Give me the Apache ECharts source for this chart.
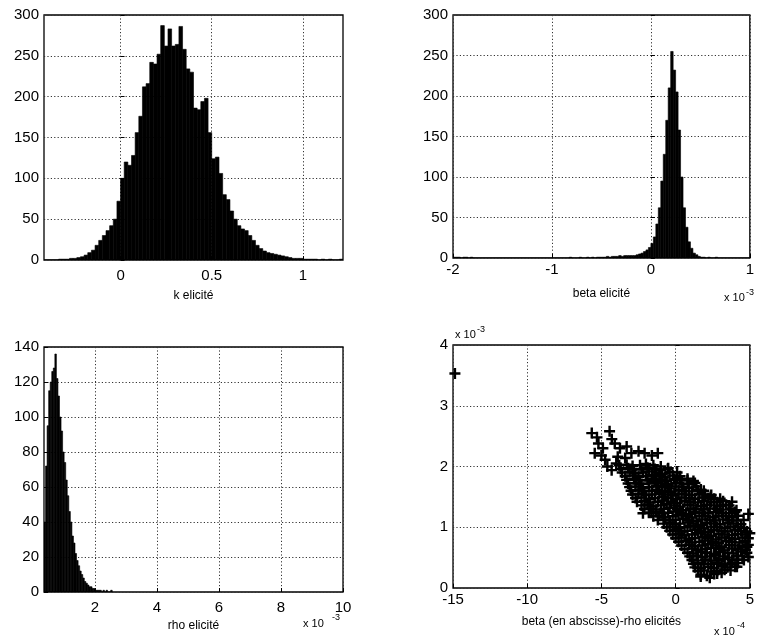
<!DOCTYPE html>
<html><head><meta charset="utf-8">
<script src="https://cdn.jsdelivr.net/npm/echarts@6/dist/echarts.min.js"></script>
<style>html,body{margin:0;padding:0;background:#fff}#c{width:757px;height:643px}</style>
</head><body><div id="c"></div>
<script>
// ---------- data ----------
// Panel 1: k elicité histogram (bins of 0.02 starting at -0.42)
const kBinStart = -0.42, kBinWidth = 0.02;
const kCounts = [0,0,0,0,1,1,1,2,2,3,
  4,6,9,12,18,24,30,36,42,50,
  72,100,120,116,128,156,176,212,216,242,
  240,252,287,262,283,262,264,286,258,234,
  230,186,184,194,198,156,124,126,106,80,
  74,60,50,42,38,36,30,24,18,14,
  11,9,8,7,6,5,4,3,2,2,
  2,1,1,1,1,0,1,0,1,0,0,1];
const kTicks = [0, 0.5, 1];

// Panel 2: beta elicité histogram (x 10^-3, bins of 0.025 starting at -2)
const betaBinStart = -2, betaBinWidth = 0.025;
const betaCounts = [1,1,1,0,1,1,0,1,0,0,
  0,0,0,0,0,0,0,0,0,0,
  0,0,0,0,0,0,0,0,0,0,
  0,0,0,0,0,0,0,0,0,0,
  0,0,0,0,0,0,0,1,0,0,
  0,1,0,0,1,0,1,0,1,1,
  1,1,2,1,2,2,2,3,2,3,3,3,
  3,3,4,5,6,8,10,13,
  18,26,42,62,95,128,170,210,255,232,205,158,100,62,38,20,12,6,4,2,1,
  1,0,1,0,0,1,0,0,0,0,0,0,0,0,0,0,0,0,0];
const betaTicks = [-2, -1, 0, 1];

// Panel 3: rho elicité histogram (x 10^-3, bins of 0.05 starting at 0.357)
const rhoBinStart = 0.357, rhoBinWidth = 0.05;
const rhoCounts = [40,72,95,115,120,126,128,136,122,112,
  100,92,80,74,64,55,46,40,32,28,
  22,18,15,12,10,8,6,5,4,3,
  3,2,2,1,1,1,1,0,1,0,1,0,0,1];
const rhoTicks = [2, 4, 6, 8, 10];

// Panel 4: beta (x 10^-4) vs rho (x 10^-3) scatter
const scatterPoints = [
  [1.7,0.22],[2.1,0.20],[2.6,0.23],[3.1,0.25],
  [1.5,0.28],[1.9,0.29],[2.4,0.27],[2.8,0.28],[3.3,0.30],[3.7,0.29],
  [1.3,0.34],[1.7,0.33],[2.2,0.35],[2.6,0.33],[3.1,0.36],[3.5,0.34],[4.0,0.35],
  [1.2,0.40],[1.5,0.41],[1.9,0.39],[2.4,0.40],[2.8,0.42],[3.3,0.40],[3.7,0.39],[4.2,0.41],
  [1.1,0.46],[1.5,0.45],[2.0,0.47],[2.4,0.45],[2.9,0.46],[3.3,0.48],[3.8,0.45],[4.2,0.47],[4.6,0.46],
  [0.95,0.52],[1.4,0.53],[1.8,0.51],[2.3,0.52],[2.7,0.54],[3.2,0.52],[3.6,0.50],[4.1,0.53],[4.5,0.52],[4.9,0.51],
  [0.8,0.58],[1.2,0.57],[1.7,0.59],[2.1,0.58],[2.6,0.56],[3.0,0.59],[3.5,0.58],[3.9,0.57],[4.4,0.60],[4.8,0.58],
  [0.6,0.64],[1.1,0.65],[1.5,0.63],[2.0,0.64],[2.4,0.66],[2.9,0.64],[3.3,0.62],[3.8,0.65],[4.2,0.64],[4.7,0.63],
  [0.4,0.70],[0.9,0.71],[1.3,0.69],[1.8,0.70],[2.2,0.72],[2.7,0.70],[3.1,0.68],[3.6,0.71],[4.0,0.70],[4.5,0.69],[4.9,0.71],
  [0.2,0.76],[0.7,0.77],[1.1,0.75],[1.6,0.76],[2.0,0.78],[2.5,0.76],[2.9,0.74],[3.4,0.77],[3.8,0.76],[4.3,0.75],[4.7,0.77],
  [0.0,0.82],[0.4,0.83],[0.9,0.81],[1.3,0.82],[1.8,0.84],[2.2,0.82],[2.7,0.80],[3.1,0.83],[3.6,0.82],[4.0,0.81],[4.5,0.83],[4.9,0.82],
  [-0.2,0.88],[0.2,0.89],[0.6,0.87],[1.1,0.88],[1.5,0.90],[2.0,0.88],[2.4,0.86],[2.9,0.89],[3.3,0.88],[3.8,0.87],[4.2,0.89],[4.7,0.88],
  [-0.4,0.94],[0.0,0.95],[0.4,0.93],[0.8,0.94],[1.3,0.96],[1.7,0.94],[2.2,0.92],[2.6,0.95],[3.1,0.94],[3.5,0.93],[4.0,0.95],[4.4,0.94],[4.8,0.93],
  [-0.6,1.00],[-0.2,1.01],[0.2,0.99],[0.6,1.00],[1.0,1.02],[1.5,1.00],[1.9,0.98],[2.4,1.01],[2.8,1.00],[3.3,0.99],[3.7,1.01],[4.2,1.00],[4.6,0.99],
  [-0.8,1.06],[-0.4,1.07],[0.0,1.05],[0.3,1.06],[0.8,1.08],[1.2,1.06],[1.7,1.04],[2.1,1.07],[2.6,1.06],[3.0,1.05],[3.5,1.07],[3.9,1.06],[4.4,1.05],
  [-1.2,1.12],[-0.8,1.13],[-0.4,1.11],[0.0,1.12],[0.5,1.14],[0.9,1.12],[1.4,1.10],[1.8,1.13],[2.3,1.12],[2.7,1.11],[3.2,1.13],[3.6,1.12],[4.1,1.11],
  [-1.5,1.18],[-1.1,1.19],[-0.7,1.17],[-0.2,1.18],[0.2,1.20],[0.7,1.18],[1.1,1.16],[1.6,1.19],[2.0,1.18],[2.5,1.17],[2.9,1.19],[3.4,1.18],[3.8,1.17],[4.2,1.19],
  [-1.8,1.24],[-1.3,1.25],[-0.9,1.23],[-0.5,1.24],[0.0,1.26],[0.4,1.24],[0.9,1.22],[1.3,1.25],[1.8,1.24],[2.2,1.23],[2.7,1.25],[3.1,1.24],[3.6,1.23],[4.0,1.25],
  [-2.1,1.30],[-1.7,1.31],[-1.3,1.29],[-0.8,1.30],[-0.4,1.32],[0.1,1.30],[0.5,1.28],[1.0,1.31],[1.4,1.30],[1.9,1.29],[2.3,1.31],[2.8,1.30],[3.2,1.29],[3.7,1.31],[4.1,1.28],
  [-2.3,1.36],[-1.9,1.37],[-1.5,1.35],[-1.0,1.36],[-0.6,1.38],[-0.1,1.36],[0.3,1.34],[0.8,1.37],[1.2,1.36],[1.7,1.35],[2.1,1.37],[2.6,1.36],[3.0,1.35],[3.4,1.37],
  [-2.6,1.42],[-2.1,1.43],[-1.7,1.41],[-1.2,1.42],[-0.8,1.44],[-0.3,1.42],[0.1,1.40],[0.6,1.43],[1.0,1.42],[1.5,1.41],[1.9,1.43],[2.4,1.42],[2.8,1.41],[3.2,1.43],
  [-2.7,1.48],[-2.3,1.49],[-1.8,1.47],[-1.4,1.48],[-0.9,1.50],[-0.5,1.48],[0.0,1.46],[0.4,1.49],[0.9,1.48],[1.3,1.47],[1.8,1.49],[2.2,1.48],[2.6,1.47],
  [-2.9,1.54],[-2.5,1.55],[-2.0,1.53],[-1.6,1.54],[-1.1,1.56],[-0.7,1.54],[-0.2,1.52],[0.2,1.55],[0.7,1.54],[1.1,1.53],[1.6,1.55],[2.0,1.54],[2.4,1.53],
  [-3.0,1.60],[-2.5,1.61],[-2.1,1.59],[-1.6,1.60],[-1.2,1.62],[-0.7,1.60],[-0.3,1.58],[0.2,1.61],[0.6,1.60],[1.1,1.59],[1.5,1.61],[1.9,1.60],
  [-3.1,1.66],[-2.7,1.67],[-2.2,1.65],[-1.8,1.66],[-1.3,1.68],[-0.9,1.66],[-0.4,1.64],[0.0,1.67],[0.5,1.66],[0.9,1.65],[1.4,1.67],
  [-3.2,1.72],[-2.7,1.73],[-2.3,1.71],[-1.8,1.72],[-1.4,1.74],[-0.9,1.72],[-0.5,1.70],[0.0,1.73],[0.4,1.72],[0.9,1.71],[1.3,1.73],
  [-3.3,1.78],[-2.8,1.79],[-2.4,1.77],[-1.9,1.78],[-1.5,1.80],[-1.0,1.78],[-0.6,1.76],[-0.1,1.79],[0.3,1.78],[0.8,1.77],[1.2,1.76],
  [-3.4,1.84],[-2.9,1.85],[-2.5,1.83],[-2.0,1.84],[-1.6,1.86],[-1.1,1.84],[-0.7,1.82],[-0.2,1.85],[0.3,1.84],
  [-3.6,1.90],[-3.1,1.91],[-2.7,1.89],[-2.2,1.90],[-1.8,1.92],[-1.3,1.90],[-0.9,1.88],[-0.4,1.91],[0.1,1.90],
  [-3.7,1.96],[-3.2,1.97],[-2.8,1.95],[-2.3,1.96],[-1.9,1.98],[-1.4,1.96],[-1.0,1.94],[-0.5,1.97],
  [-3.8,2.02],[-3.3,2.03],[-2.9,2.01],[-2.4,2.02],[-2.0,2.04],[-1.5,2.02],[-1.0,2.00],
  [-5.65,2.55],[-4.45,2.58],[-4.3,2.45],[-5.2,2.38],[-5.45,2.22],[-4.75,2.11],[-4.9,2.30],[-4.1,2.38],
  [-3.75,2.30],[-3.3,2.33],[-2.98,2.22],[-2.5,2.25],[-2.09,2.22],[-1.6,2.18],[-1.2,2.22],[-4.31,1.94],
  [-4.0,2.05],[-4.6,2.0],[-3.9,2.16],[-3.4,2.14],[-0.53,1.96],[0.13,1.83],[0.8,1.80],[1.7,1.62],
  [2.36,1.50],[3.0,1.47],[3.8,1.42],[3.6,1.36],[4.58,1.12],[4.9,1.22],[5.0,0.90],[4.8,0.68],
  [4.13,0.35],[2.8,0.24],[1.69,0.19],[2.3,0.17],[-1.64,1.24],[-2.2,1.23],[-14.87,3.53],[-5.0,2.18],[-5.3,2.48]
];
const scatterXTicks = [-15, -10, -5, 0, 5];
const scatterYTicks = [0, 1, 2, 3, 4];

// ---------- chart ----------
const FONT = '"Liberation Sans", Arial, Helvetica, sans-serif';
const chart = echarts.init(document.getElementById('c'), null, {renderer: 'canvas'});

function histData(start, width, counts) {
  return counts.map((c, i) => [start + i * width, start + (i + 1) * width, c]);
}
function renderHist(params, api) {
  const p0 = api.coord([api.value(0), api.value(2)]);
  const p1 = api.coord([api.value(1), 0]);
  return {
    type: 'rect',
    shape: {x: p0[0], y: p0[1], width: p1[0] - p0[0], height: p1[1] - p0[1]},
    style: {fill: '#000', stroke: '#000', lineWidth: 0.6}
  };
}
function grid(l, t, w, h) {
  return {left: l, top: t, width: w, height: h, show: true, borderColor: '#000', borderWidth: 1.3, backgroundColor: '#fff'};
}
function axis(gridIndex, min, max, extra) {
  const a = {
    type: 'value', gridIndex: gridIndex, min: min, max: max,
    axisLine: {show: false},
    axisTick: {show: true, inside: true, length: 4, lineStyle: {color: '#000'}},
    axisLabel: {color: '#000', fontSize: 15, fontFamily: FONT, margin: 6},
    splitLine: {show: true, lineStyle: {color: '#333', type: [1.2, 2.2], width: 1}},
    nameLocation: 'middle', nameTextStyle: {color: '#000', fontSize: 12, fontFamily: FONT}
  };
  if (extra.interval !== undefined) a.interval = extra.interval;
  if (extra.custom) { a.axisLabel.customValues = extra.custom; a.axisTick.customValues = extra.custom; }
  if (extra.name) { a.name = extra.name; a.nameGap = extra.nameGap; }
  if (extra.margin !== undefined) a.axisLabel.margin = extra.margin;
  return a;
}

const PLUS = 'path://M3.9,0H6.1V3.9H10V6.1H6.1V10H3.9V6.1H0V3.9H3.9Z';

const option = {
  animation: false,
  backgroundColor: '#fff',
  grid: [grid(44, 15, 299, 245), grid(453, 15, 299, 243), grid(44, 347, 299, 245), grid(453, 345, 300, 243)],
  xAxis: [
    axis(0, kBinStart, kBinStart + kCounts.length * kBinWidth, {custom: kTicks, name: 'k elicité', nameGap: 30, margin: 8}),
    axis(1, betaTicks[0], betaTicks[betaTicks.length - 1], {interval: 1, name: 'beta elicité', nameGap: 30, margin: 4}),
    axis(2, rhoBinStart, rhoTicks[rhoTicks.length - 1], {custom: rhoTicks, name: 'rho elicité', nameGap: 28, margin: 8}),
    axis(3, scatterXTicks[0], scatterXTicks[scatterXTicks.length - 1], {interval: 5, name: 'beta (en abscisse)-rho elicités', nameGap: 28, margin: 4})
  ],
  yAxis: [
    axis(0, 0, 300, {interval: 50, margin: 5}),
    axis(1, 0, 300, {interval: 50, margin: 5}),
    axis(2, 0, 140, {interval: 20, margin: 5}),
    axis(3, scatterYTicks[0], scatterYTicks[scatterYTicks.length - 1], {interval: 1, margin: 5})
  ],
  series: [
    {type: 'custom', xAxisIndex: 0, yAxisIndex: 0, renderItem: renderHist, data: histData(kBinStart, kBinWidth, kCounts), encode: {x: [0, 1], y: 2}, silent: true, clip: true},
    {type: 'custom', xAxisIndex: 1, yAxisIndex: 1, renderItem: renderHist, data: histData(betaBinStart, betaBinWidth, betaCounts), encode: {x: [0, 1], y: 2}, silent: true, clip: true},
    {type: 'custom', xAxisIndex: 2, yAxisIndex: 2, renderItem: renderHist, data: histData(rhoBinStart, rhoBinWidth, rhoCounts), encode: {x: [0, 1], y: 2}, silent: true, clip: true},
    {type: 'scatter', xAxisIndex: 3, yAxisIndex: 3, data: scatterPoints, symbol: PLUS, symbolSize: 11, itemStyle: {color: '#000', opacity: 1}, silent: true}
  ],
  graphic: [
    {type: 'text', x: 724, y: 303, style: {text: 'x 10', font: '11px ' + FONT, fill: '#000', textVerticalAlign: 'bottom'}},
    {type: 'text', x: 746, y: 297, style: {text: '-3', font: '9px ' + FONT, fill: '#000', textVerticalAlign: 'bottom'}},
    {type: 'text', x: 303, y: 629, style: {text: 'x 10', font: '11px ' + FONT, fill: '#000', textVerticalAlign: 'bottom'}},
    {type: 'text', x: 332, y: 622, style: {text: '-3', font: '9px ' + FONT, fill: '#000', textVerticalAlign: 'bottom'}},
    {type: 'text', x: 714, y: 637, style: {text: 'x 10', font: '11px ' + FONT, fill: '#000', textVerticalAlign: 'bottom'}},
    {type: 'text', x: 737, y: 630, style: {text: '-4', font: '9px ' + FONT, fill: '#000', textVerticalAlign: 'bottom'}},
    {type: 'text', x: 455, y: 340, style: {text: 'x 10', font: '11px ' + FONT, fill: '#000', textVerticalAlign: 'bottom'}},
    {type: 'text', x: 477, y: 334, style: {text: '-3', font: '9px ' + FONT, fill: '#000', textVerticalAlign: 'bottom'}}
  ]
};
chart.setOption(option);
</script>
</body></html>
